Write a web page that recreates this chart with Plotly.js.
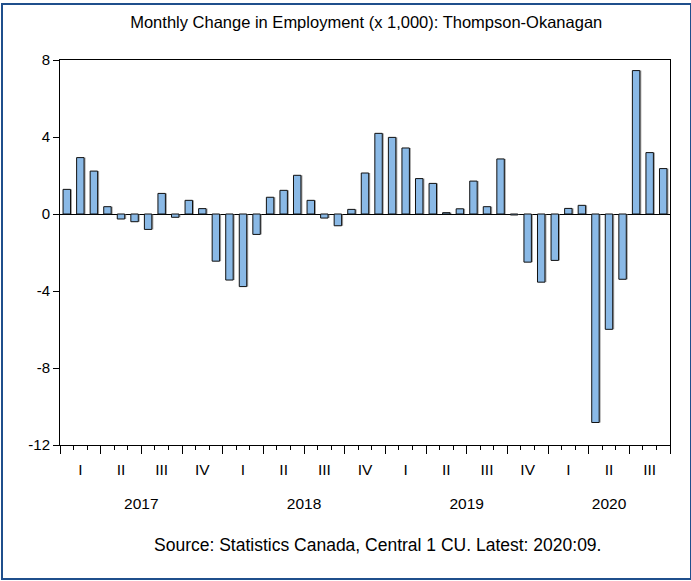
<!DOCTYPE html>
<html>
<head>
<meta charset="utf-8">
<script src="https://cdn.plot.ly/plotly-3.0.1.min.js"></script>
<style>
html,body{margin:0;padding:0;background:#fff;}
#wrap{position:relative;width:691px;height:581px;}
#chart{width:691px;height:581px;}
#frame{position:absolute;left:1px;top:3px;width:687px;height:573px;border:2px solid #1f4f8c;pointer-events:none;}
</style>
</head>
<body>
<div id="wrap"><div id="chart"></div><div id="frame"></div></div>
<script>
// Monthly change in employment (x 1,000), Thompson-Okanagan, 2017:01 - 2020:09
const months = [
  "2017-01","2017-02","2017-03","2017-04","2017-05","2017-06","2017-07","2017-08","2017-09","2017-10","2017-11","2017-12",
  "2018-01","2018-02","2018-03","2018-04","2018-05","2018-06","2018-07","2018-08","2018-09","2018-10","2018-11","2018-12",
  "2019-01","2019-02","2019-03","2019-04","2019-05","2019-06","2019-07","2019-08","2019-09","2019-10","2019-11","2019-12",
  "2020-01","2020-02","2020-03","2020-04","2020-05","2020-06","2020-07","2020-08","2020-09"
];
const changes = [
  1.28, 2.93, 2.23, 0.38, -0.26, -0.40, -0.80, 1.07, -0.17, 0.71, 0.28, -2.45,
  -3.43, -3.77, -1.06, 0.87, 1.23, 2.01, 0.71, -0.21, -0.61, 0.24, 2.13, 4.19,
  3.98, 3.43, 1.84, 1.59, 0.07, 0.27, 1.71, 0.38, 2.86, -0.05, -2.50, -3.54,
  -2.41, 0.29, 0.45, -10.83, -5.99, -3.39, 7.45, 3.19, 2.36
];
const quarterLabels = ["I","II","III","IV","I","II","III","IV","I","II","III","IV","I","II","III"];
const yearLabels = ["2017","2018","2019","2020"];
const yTicks = [-12, -8, -4, 0, 4, 8];

// positions on a month-index axis
const xPos = months.map((m, i) => i + 0.5);
const nMonths = months.length;
const quarterBounds = [];
for (let q = 0; q <= nMonths; q += 3) quarterBounds.push(q);
const quarterCenters = quarterLabels.map((q, i) => i * 3 + 1.5);
const yearCenters = yearLabels.map((y, i) => {
  const start = i * 12;
  const end = Math.min(start + 12, nMonths);
  return (start + end) / 2;
});

const FONT = "Liberation Sans, Arial, sans-serif";
const plotBottom = 0.2315;

const shadow = {
  type: "bar", x: xPos, y: changes,
  width: 0.55, offset: -0.275 + 0.11,
  marker: {color: "rgba(110,110,110,0.65)", line: {width: 0}},
  hoverinfo: "skip", showlegend: false
};
const bars = {
  type: "bar", x: xPos, y: changes,
  width: 0.55, offset: -0.275,
  marker: {color: "#8ab9e6", line: {color: "#111", width: 1}},
  showlegend: false
};

const layout = {
  width: 691, height: 581,
  margin: {l: 60, r: 21, t: 60, b: 20},
  paper_bgcolor: "#fff", plot_bgcolor: "#fff",
  barmode: "overlay",
  showlegend: false,
  font: {family: FONT, size: 15, color: "#000"},
  title: {
    text: "Monthly Change in Employment (x 1,000): Thompson-Okanagan",
    font: {family: FONT, size: 16.5, color: "#000"},
    x: 0.53, xanchor: "center", y: 0.962, yanchor: "middle"
  },
  xaxis: {
    range: [0, nMonths], domain: [0, 1],
    showgrid: false, zeroline: false,
    showline: true, linecolor: "#000", linewidth: 1, mirror: true,
    tickmode: "array", tickvals: quarterBounds, ticktext: quarterBounds.map(() => ""),
    ticks: "outside", ticklen: 8, tickcolor: "#000", tickwidth: 1,
    minor: {tickmode: "linear", tick0: 0, dtick: 1, ticks: "outside", ticklen: 4, tickcolor: "#000", tickwidth: 1, showgrid: false},
    fixedrange: true
  },
  xaxis2: {
    overlaying: "x", matches: "x", anchor: "free", position: plotBottom,
    range: [0, nMonths],
    showgrid: false, zeroline: false, showline: false,
    tickmode: "array", tickvals: quarterCenters, ticktext: quarterLabels,
    ticks: "", ticklabelstandoff: 13,
    tickfont: {family: FONT, size: 15.5, color: "#000"}
  },
  xaxis3: {
    overlaying: "x", matches: "x", anchor: "free", position: plotBottom,
    range: [0, nMonths],
    showgrid: false, zeroline: false, showline: false,
    tickmode: "array", tickvals: yearCenters, ticktext: yearLabels,
    ticks: "", ticklabelstandoff: 47,
    tickfont: {family: FONT, size: 15.5, color: "#000"}
  },
  yaxis: {
    range: [-12, 8], domain: [plotBottom, 1],
    showgrid: false,
    zeroline: true, zerolinecolor: "#000", zerolinewidth: 1,
    showline: true, linecolor: "#000", linewidth: 1, mirror: true,
    tickmode: "array", tickvals: yTicks, ticktext: yTicks.map(String),
    ticks: "outside", ticklen: 6, tickcolor: "#000",
    tickfont: {family: FONT, size: 15, color: "#000"},
    fixedrange: true
  },
  annotations: [{
    text: "Source: Statistics Canada, Central 1 CU. Latest: 2020:09.",
    xref: "paper", yref: "paper", x: 0.52, y: 0.032,
    xanchor: "center", yanchor: "middle", showarrow: false,
    font: {family: FONT, size: 17.5, color: "#000"}
  }]
};

// dummy traces to activate the label axes
const qAxisTrace = {type: "scatter", x: [0], y: [0], xaxis: "x2", mode: "none", hoverinfo: "skip", showlegend: false};
const yAxisTrace = {type: "scatter", x: [0], y: [0], xaxis: "x3", mode: "none", hoverinfo: "skip", showlegend: false};

Plotly.newPlot("chart", [shadow, bars, qAxisTrace, yAxisTrace], layout, {displayModeBar: false, staticPlot: true});
</script>
</body>
</html>
